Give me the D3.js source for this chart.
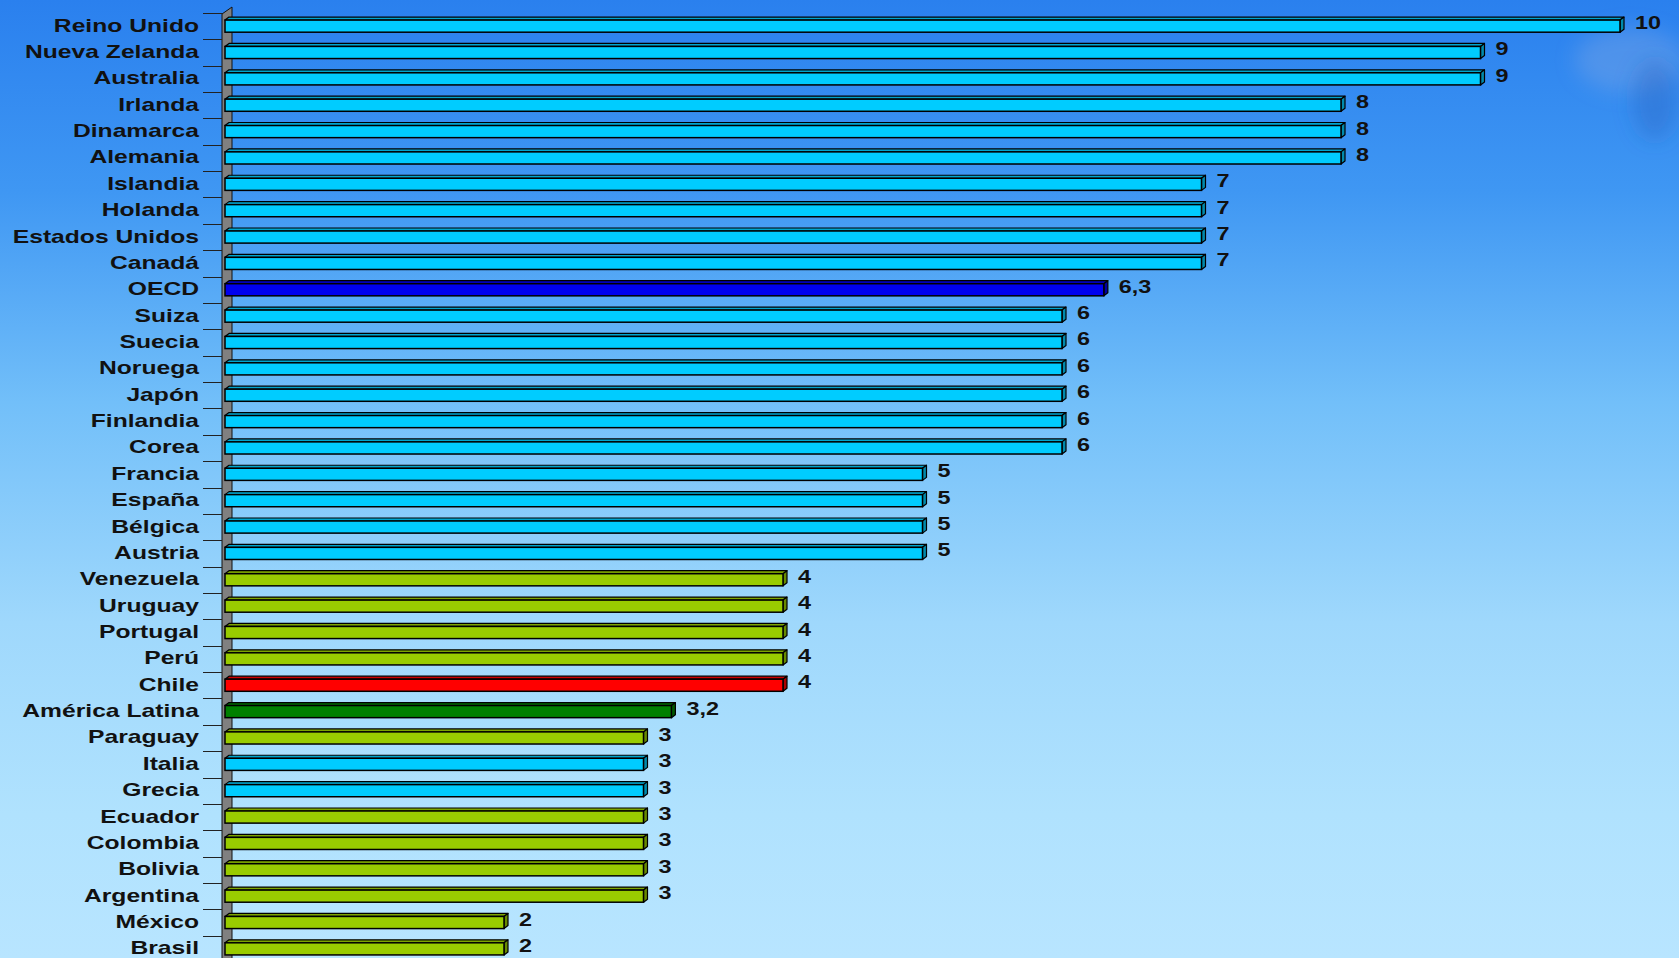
<!DOCTYPE html>
<html>
<head>
<meta charset="utf-8">
<script src="https://cdn.jsdelivr.net/npm/d3@7"></script>
<style>
  html, body { margin: 0; padding: 0; overflow: hidden; }
  svg { display: block; }
</style>
</head>
<body>
<svg id="chart" width="1679" height="958"></svg>
<script>
const categories = ["Reino Unido","Nueva Zelanda","Australia","Irlanda","Dinamarca","Alemania","Islandia","Holanda","Estados Unidos","Canadá","OECD","Suiza","Suecia","Noruega","Japón","Finlandia","Corea","Francia","España","Bélgica","Austria","Venezuela","Uruguay","Portugal","Perú","Chile","América Latina","Paraguay","Italia","Grecia","Ecuador","Colombia","Bolivia","Argentina","México","Brasil"];
const values = [10,9,9,8,8,8,7,7,7,7,6.3,6,6,6,6,6,6,5,5,5,5,4,4,4,4,4,3.2,3,3,3,3,3,3,3,2,2];
const groups = ["o","o","o","o","o","o","o","o","o","o","oecd","o","o","o","o","o","o","o","o","o","o","l","l","l","l","chile","latam","l","o","o","l","l","l","l","l","l"];
const groupColors = {o: "#00CCFF", oecd: "#0000EE", l: "#99CC00", chile: "#FF0000", latam: "#008000"};

const W = 1679, H = 958;
const svg = d3.select("#chart");
const defs = svg.append("defs");

// background
const bg = defs.append("linearGradient").attr("id", "bg").attr("x1", 0).attr("y1", 0).attr("x2", 0).attr("y2", 1);
[[0, "#2a80ee"], [0.2, "#3f97f3"], [0.42, "#72bff9"], [0.65, "#9fd8fc"], [0.85, "#b0e2fe"], [1, "#b8e5ff"]]
  .forEach(([o, c]) => bg.append("stop").attr("offset", o).attr("stop-color", c));
svg.append("rect").attr("width", W).attr("height", H).attr("fill", "url(#bg)");

// faint cloud top-right
const blur = defs.append("filter").attr("id", "blur").attr("x", "-50%").attr("y", "-50%").attr("width", "200%").attr("height", "200%");
blur.append("feGaussianBlur").attr("stdDeviation", 10);
svg.append("ellipse").attr("cx", 1630).attr("cy", 60).attr("rx", 55).attr("ry", 32)
  .attr("fill", "rgba(150,175,225,0.3)").attr("filter", "url(#blur)");
svg.append("ellipse").attr("cx", 1655).attr("cy", 100).attr("rx", 22).attr("ry", 40)
  .attr("fill", "rgba(45,95,185,0.35)").attr("filter", "url(#blur)");

const x0 = 225;
const x = d3.scaleLinear().domain([0, 10]).range([x0, 1620]);
const y = d3.scaleBand().domain(categories).range([14, 961]).paddingInner(0.54).paddingOuter(0.23);
const step = y.step();
const bh = y.bandwidth();
const dx = 4, dy = 3;

// wall
svg.append("polygon")
  .attr("points", `222,14 232,7 232,${H + 10} 222,${H + 10}`)
  .attr("fill", "#808080").attr("stroke", "#111").attr("stroke-width", 1);

// tick marks at band boundaries
const tickYs = categories.map(c => y(c) - y.paddingInner() * step / 2);
svg.append("g").selectAll("line").data(tickYs).join("line")
  .attr("x1", 203).attr("x2", 222)
  .attr("y1", d => Math.round(d) + 0.5).attr("y2", d => Math.round(d) + 0.5)
  .attr("stroke", "#222").attr("stroke-width", 1);

const data = categories.map((c, i) => ({c, v: values[i], g: groups[i]}));

const bars = svg.append("g").selectAll("g").data(data).join("g");
bars.each(function(d) {
  const g = d3.select(this);
  const col = d3.color(groupColors[d.g]);
  const xs = x(0), xe = x(d.v), yt = y(d.c), yb = yt + bh;
  g.append("polygon")
    .attr("points", `${xs},${yt} ${xs + dx},${yt - dy} ${xe + dx},${yt - dy} ${xe},${yt}`)
    .attr("fill", col.darker(0.6)).attr("stroke", "#000").attr("stroke-width", 1.2).attr("stroke-linejoin", "round");
  g.append("polygon")
    .attr("points", `${xe},${yt} ${xe + dx},${yt - dy} ${xe + dx},${yb - dy} ${xe},${yb}`)
    .attr("fill", col.darker(1.1)).attr("stroke", "#000").attr("stroke-width", 1.2).attr("stroke-linejoin", "round");
  g.append("rect")
    .attr("x", xs).attr("y", yt).attr("width", xe - xs).attr("height", bh)
    .attr("fill", col).attr("stroke", "#000").attr("stroke-width", 1.5);
});

// category labels
svg.append("g").selectAll("text").data(data).join("text")
  .attr("transform", d => `translate(199,${y(d.c) + bh / 2 + 5.5}) scale(1.37,1)`)
  .attr("text-anchor", "end")
  .attr("font-family", "'Liberation Sans', Arial, sans-serif")
  .attr("font-weight", "bold").attr("font-size", 18).attr("fill", "#111")
  .text(d => d.c);

// value labels
const loc = d3.formatLocale({decimal: ",", thousands: ".", grouping: [3], currency: ["", ""]});
const fmt = v => Number.isInteger(v) ? String(v) : loc.format(".1f")(v);
svg.append("g").selectAll("text").data(data).join("text")
  .attr("transform", d => `translate(${x(d.v) + 15},${y(d.c) + bh / 2 + 3}) scale(1.3,1)`)
  .attr("font-family", "'Liberation Sans', Arial, sans-serif")
  .attr("font-weight", "bold").attr("font-size", 18).attr("fill", "#111")
  .text(d => fmt(d.v));
</script>
</body>
</html>
